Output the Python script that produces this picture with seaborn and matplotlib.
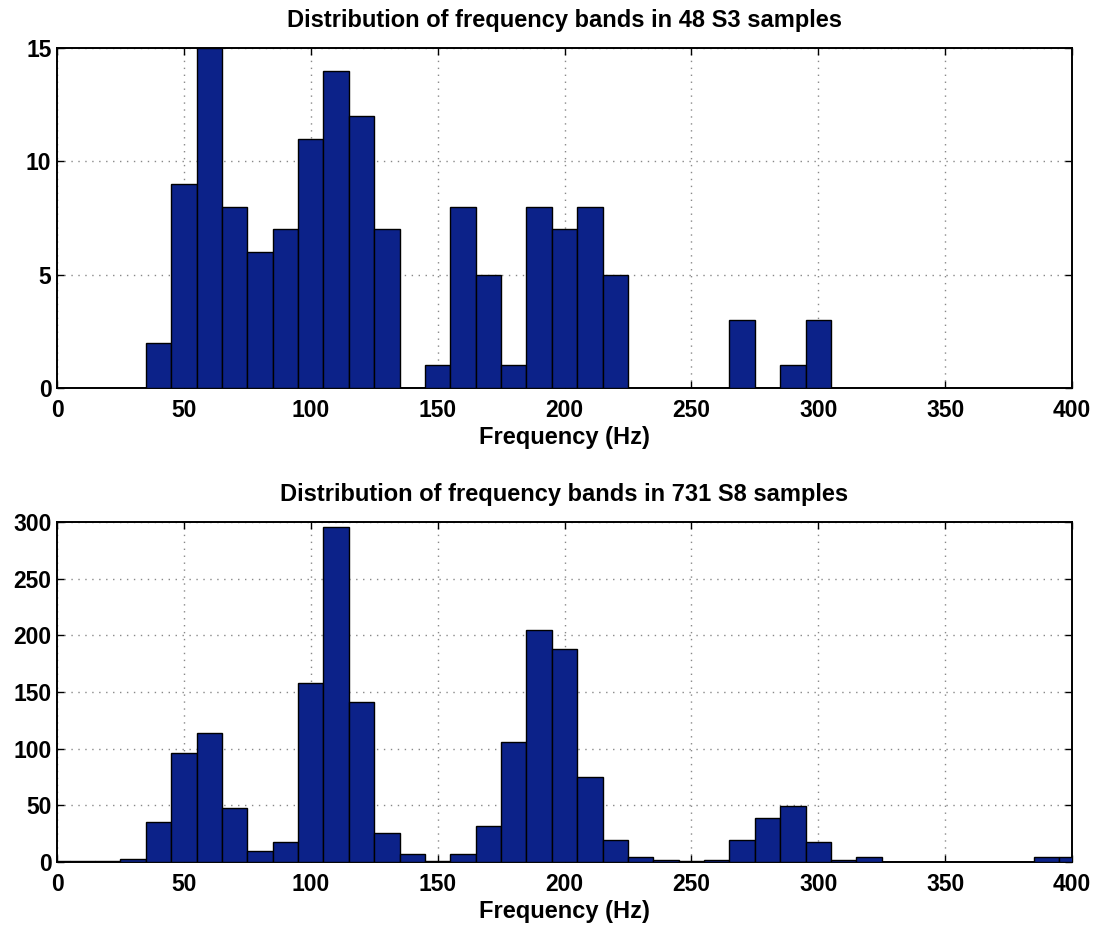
import numpy as np
import pandas as pd
import matplotlib
matplotlib.use("Agg")
import matplotlib.pyplot as plt
import seaborn as sns

# Bin centres (Hz)
centers = list(range(0, 410, 10))

# Counts for 48 S3 samples
s3_counts = [0, 0, 0, 0, 2, 9, 15, 8, 6, 7, 11, 14, 12, 7, 0, 1, 8, 5, 1, 8,
             7, 8, 5, 0, 0, 0, 0, 3, 0, 1, 3, 0, 0, 0, 0, 0, 0, 0, 0, 0, 0]

# Counts for 731 S8 samples
s8_counts = [1, 1, 1, 3, 35, 96, 114, 48, 10, 18, 158, 296, 141, 26, 7, 1, 7, 32, 106, 205,
             188, 75, 19, 4, 2, 1, 2, 19, 39, 49, 18, 2, 4, 0, 0, 0, 0, 0, 0, 4, 4]

titles = ["Distribution of frequency bands in 48 S3 samples",
          "Distribution of frequency bands in 731 S8 samples"]
xlabel = "Frequency (Hz)"
x_ticks = [0, 50, 100, 150, 200, 250, 300, 350, 400]
y_ticks_top = [0, 5, 10, 15]
y_ticks_bottom = [0, 50, 100, 150, 200, 250, 300]

sns.set_style("white")
plt.rcParams['font.family'] = ['Liberation Sans', 'DejaVu Sans']
plt.rcParams['text.color'] = 'black'
plt.rcParams['axes.labelcolor'] = 'black'
plt.rcParams['xtick.color'] = 'black'
plt.rcParams['ytick.color'] = 'black'

fig = plt.figure(figsize=(10.99, 9.25), dpi=100)
ax1 = fig.add_axes([57/1099, 1-388/925, (1072-57)/1099, (388-48)/925])
ax2 = fig.add_axes([57/1099, 1-862/925, (1072-57)/1099, (862-522)/925])

bar_color = '#0c2289'
edges = [float(e) for e in np.arange(-5, 415, 10)]

for ax, counts, title, yt in [(ax1, s3_counts, titles[0], y_ticks_top),
                               (ax2, s8_counts, titles[1], y_ticks_bottom)]:
    df = pd.DataFrame({"freq": centers, "count": counts})
    sns.histplot(data=df, x="freq", weights="count", bins=edges, ax=ax,
                 color=bar_color, alpha=1.0, edgecolor='black', linewidth=1.0,
                 zorder=3)
    ax.set_xlim(0, 400)
    ax.set_ylim(0, yt[-1])
    ax.set_xticks(x_ticks)
    ax.set_yticks(yt)
    ax.set_xticklabels([str(v) for v in x_ticks], fontweight='bold', fontsize=16.5)
    ax.set_yticklabels([str(v) for v in yt], fontweight='bold', fontsize=16.5)
    ax.set_xlabel(xlabel, fontweight='bold', fontsize=17, labelpad=3, color='black')
    ax.set_ylabel("")
    ax.set_title(title, fontweight='bold', fontsize=17, pad=15, color='black')
    ax.grid(True, linestyle=(0, (1, 4)), color='#888888', linewidth=1.0, zorder=0)
    ax.set_axisbelow(True)
    ax.tick_params(axis='both', direction='in', length=5, width=1, top=True, right=True,
                   bottom=True, left=True, colors='black')
    ax.tick_params(axis='x', pad=8)
    ax.tick_params(axis='y', pad=4)
    for sp in ax.spines.values():
        sp.set_visible(True)
        sp.set_color('black')
        sp.set_linewidth(1.4)

fig.savefig("out.png", dpi=100)
